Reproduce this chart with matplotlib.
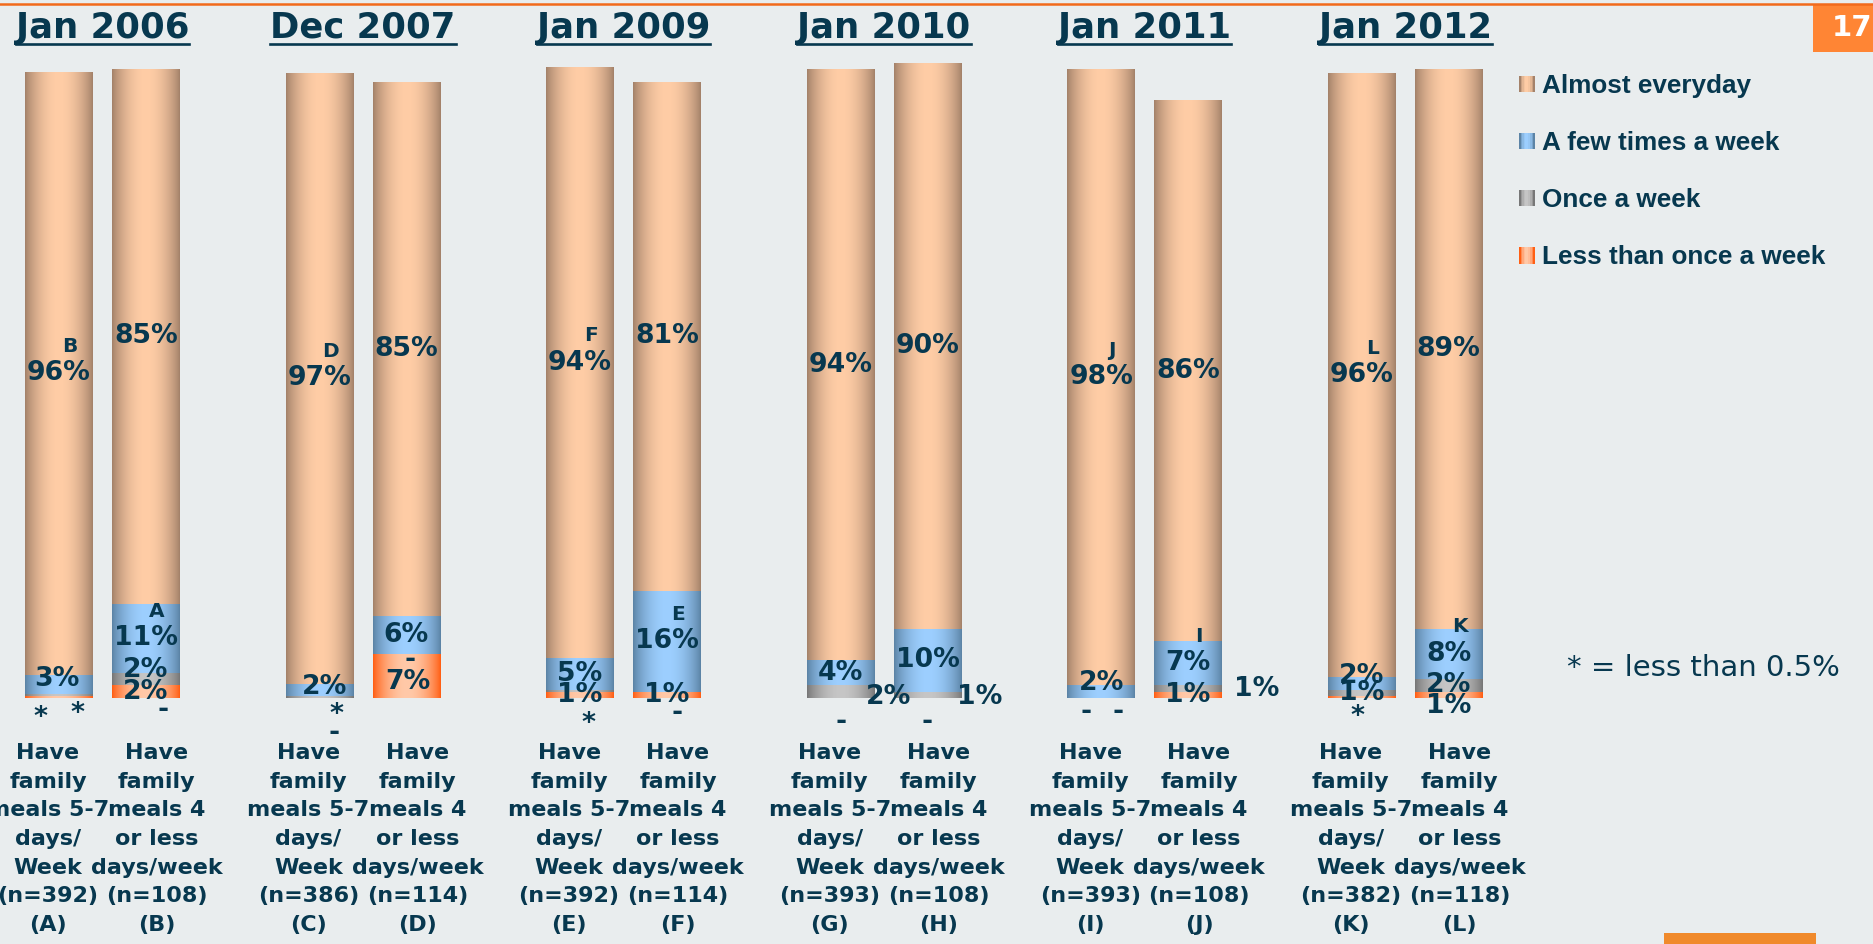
import numpy as np
import matplotlib
matplotlib.use('Agg')
import matplotlib.pyplot as plt
import matplotlib.patches as mpatches
from matplotlib.legend_handler import HandlerBase
from matplotlib.lines import Line2D
from matplotlib.transforms import offset_copy, blended_transform_factory

# ---- data -------------------------------------------------------------
waves = ['Jan 2006', 'Dec 2007', 'Jan 2009', 'Jan 2010', 'Jan 2011', 'Jan 2012']
groups = ['Have\nfamily\nmeals 5-7\ndays/\nWeek', 'Have\nfamily\nmeals 4\nor less\ndays/week']
sample_n = [392, 108, 386, 114, 392, 114, 393, 108, 393, 108, 382, 118]
col_letters = ['A', 'B', 'C', 'D', 'E', 'F', 'G', 'H', 'I', 'J', 'K', 'L']

series = ['Almost everyday', 'A few times a week', 'Once a week', 'Less than once a week']

# percentages, '*' (less than 0.5%) taken as 0.3 and '-' as 0
less_once = [0.3, 2, 0, 7, 1, 1, 0, 0, 0, 1, 0.3, 1]
once_week = [0.3, 2, 0.3, 0, 0.3, 0, 2, 1, 0, 1, 1, 2]
few_times = [3, 11, 2, 6, 5, 16, 4, 10, 2, 7, 2, 8]
almost_every = [96, 85, 97, 85, 94, 81, 94, 90, 98, 86, 96, 89]

less_lbl = ['*', '2%', '-', '7%', '1%', '1%', '-', '-', '-', '1%', '*', '1%']
once_lbl = ['*', '2%', '*', '-', '*', '-', '2%', '1%', '-', '1%', '1%', '2%']
few_lbl = ['3%', '11%', '2%', '6%', '5%', '16%', '4%', '10%', '2%', '7%', '2%', '8%']
almost_lbl = ['96%', '85%', '97%', '85%', '94%', '81%', '94%', '90%', '98%', '86%', '96%', '89%']

# significance letters
almost_sig = ['B', '', 'D', '', 'F', '', '', '', 'J', '', 'L', '']
few_sig = ['', 'A', '', '', '', 'E', '', '', '', 'I', '', 'K']
less_sig = ['', '-', '', '', '', '', '', '', '', '', '', '']

# ---- style ------------------------------------------------------------
W, H, DPI = 1874, 944, 100
BG = '#E9EDEE'
NAVY = '#07384F'
grad = {  # edge colour, centre colour
    'Almost everyday': ('#A4826A', '#FFCDA6'),
    'A few times a week': ('#5C84A6', '#9DCFFF'),
    'Once a week': ('#777777', '#C6C6C6'),
    'Less than once a week': ('#FF5F14', '#FFC9A8'),
}

# pixel layout of the slide: baseline row and px per percent / per slot
BASE_PX, PX_PCT, X0_PX, PX_SLOT = 698, 6.29, 59, 86.85


def grad_colors(edge, mid, n):
    e = np.array(matplotlib.colors.to_rgb(edge))
    m = np.array(matplotlib.colors.to_rgb(mid))
    t = np.linspace(0, 1, n)
    w = np.sin(np.pi * t) ** 0.8
    return e[None, :] + (m - e)[None, :] * w[:, None]


class GradientHandler(HandlerBase):
    def __init__(self, edge, mid):
        super().__init__()
        self.edge, self.mid = edge, mid

    def create_artists(self, legend, orig_handle, xdescent, ydescent,
                       width, height, fontsize, trans):
        cols = grad_colors(self.edge, self.mid, 10)
        sw = width / len(cols)
        arts = []
        for i, c in enumerate(cols):
            arts.append(mpatches.Rectangle((-xdescent + i * sw, -ydescent), sw * 1.05, height,
                                           facecolor=c, edgecolor='none', transform=trans))
        return arts


fig = plt.figure(figsize=(W / DPI, H / DPI), dpi=DPI, facecolor=BG)
ax = fig.add_axes([0, 0, 1, 1])
ax.set_facecolor(BG)
ax.axis('off')
xlim = (-X0_PX / PX_SLOT, (W - X0_PX) / PX_SLOT)
ylim = ((BASE_PX - H) / PX_PCT, BASE_PX / PX_PCT)

n_bars = len(almost_every)
x = np.array([3 * (i // 2) + (i % 2) for i in range(n_bars)], dtype=float)
stack = [less_once, once_week, few_times, almost_every]
labels = [less_lbl, once_lbl, few_lbl, almost_lbl]
names = ['Less than once a week', 'Once a week', 'A few times a week', 'Almost everyday']

bottom = np.zeros(n_bars)
bottoms = []
for vals, name in zip(stack, names):
    vals = np.array(vals, dtype=float)
    cont = ax.bar(x, vals, width=0.78, bottom=bottom, color=grad[name][1],
                  edgecolor='none', zorder=1)
    img = grad_colors(grad[name][0], grad[name][1], 64)[None, :, :]
    for r in cont:
        if r.get_height() <= 0:
            continue
        im = ax.imshow(img, extent=(r.get_x(), r.get_x() + r.get_width(),
                                    r.get_y(), r.get_y() + r.get_height()),
                       aspect='auto', interpolation='bilinear', zorder=2)
        im.set_clip_path(r)
    bottoms.append(bottom.copy())
    bottom = bottom + vals

ax.set_xlim(*xlim)
ax.set_ylim(*ylim)

# label nudges (px, +dy = down) where the slide moved labels off the segment centre
nudge = {
    (0, 0): (-19, 21), (0, 1): (18, 19), (0, 2): (-2, -6),
    (1, 1): (0, -9),
    (2, 0): (15, 35), (2, 1): (17, 18), (2, 2): (5, -3),
    (3, 0): (1, 6), (3, 1): (4, 6),
    (4, 1): (8, 33),
    (5, 1): (10, 21),
    (6, 0): (0, 24), (6, 1): (48, 5),
    (7, 0): (0, 24), (7, 1): (52, 2),
    (8, 0): (-15, 14), (8, 1): (17, 14), (8, 2): (0, -9),
    (9, 1): (69, 0),
    (10, 0): (-4, 20), (10, 2): (0, -8),
    (11, 0): (0, 11),
}

val_font = dict(family='DejaVu Sans', weight='bold', size=19.2, color=NAVY)
sig_font = dict(family='DejaVu Sans', weight='semibold', size=14.5, color=NAVY)

for s, (vals, lbls) in enumerate(zip(stack, labels)):
    for i in range(n_bars):
        yc = bottoms[s][i] + vals[i] / 2
        dx, dy = nudge.get((i, s), (0, 0))
        tr = offset_copy(ax.transData, fig=fig, x=dx, y=-dy, units='dots')
        ax.text(x[i], yc, lbls[i], ha='center', va='center', transform=tr, zorder=5, **val_font)
        sig = {3: almost_sig, 2: few_sig}.get(s)
        if sig and sig[i]:
            tr2 = offset_copy(ax.transData, fig=fig, x=dx + 11, y=-dy + 27, units='dots')
            ax.text(x[i], yc, sig[i], ha='center', va='center', transform=tr2, zorder=5, **sig_font)
        if s == 0 and less_sig[i]:
            tr3 = offset_copy(ax.transData, fig=fig, x=17, y=-18, units='dots')
            ax.text(x[i], yc, less_sig[i], ha='center', va='center', transform=tr3, zorder=5, **val_font)

# category labels under the bars
bt = blended_transform_factory(ax.transData, fig.transFigure)
for i in range(n_bars):
    j = i % 2
    txt = f"{groups[j]}\n(n={sample_n[i]})\n({col_letters[i]})"
    tr = offset_copy(bt, fig=fig, x=(-11 if j == 0 else 11), y=0, units='dots')
    ax.text(x[i], 1 - 839 / H, txt, ha='center', va='center', multialignment='center',
            linespacing=1.54, transform=tr, family='DejaVu Sans', weight='bold',
            size=16, color=NAVY)

# wave headers, underlined
heads = []
for g, wv in enumerate(waves):
    t = ax.text(3 * g + 0.5, 1 - 28 / H, wv, ha='center', va='center', transform=bt,
                family='DejaVu Sans', weight='bold', size=25.5, color=NAVY)
    heads.append(t)

fig.canvas.draw()
rend = fig.canvas.get_renderer()
for t in heads:
    bb = t.get_window_extent(rend)
    fig.add_artist(Line2D([bb.x0 / W, bb.x1 / W], [1 - 44 / H] * 2,
                          transform=fig.transFigure, color=NAVY, lw=1.9))

# legend
proxies = [mpatches.Patch(label=nm) for nm in series]
hmap = {p: GradientHandler(*grad[p.get_label()]) for p in proxies}
leg = fig.legend(handles=proxies, loc='upper left', bbox_to_anchor=(1519 / W, 1 - 74 / H),
                 bbox_transform=fig.transFigure, frameon=False, borderpad=0, borderaxespad=0,
                 handlelength=0.6, handleheight=0.6, handletextpad=0.3, labelspacing=1.27,
                 handler_map=hmap, prop=dict(family='Liberation Sans', weight='bold', size=18.8))
for t in leg.get_texts():
    t.set_color(NAVY)

fig.text(1567 / W, 1 - 668 / H, '* = less than 0.5%', ha='left', va='center',
         family='DejaVu Sans', size=21, color=NAVY)

# slide furniture
fig.add_artist(Line2D([0, 1], [1 - 3.5 / H] * 2, transform=fig.transFigure, color='#F26A1B', lw=1.8))
fig.add_artist(mpatches.Rectangle((1813 / W, 1 - 52 / H), 61 / W, 48 / H, transform=fig.transFigure,
                                  facecolor='#FF8534', edgecolor='none'))
fig.text(1832 / W, 1 - 28 / H, '17', ha='left', va='center', family='DejaVu Sans',
         weight='bold', size=21, color='white')
fig.add_artist(mpatches.Rectangle((1664 / W, 0), 152 / W, 11 / H, transform=fig.transFigure,
                                  facecolor='#F08A2C', edgecolor='none'))

fig.savefig('out.png', dpi=DPI, facecolor=BG)
